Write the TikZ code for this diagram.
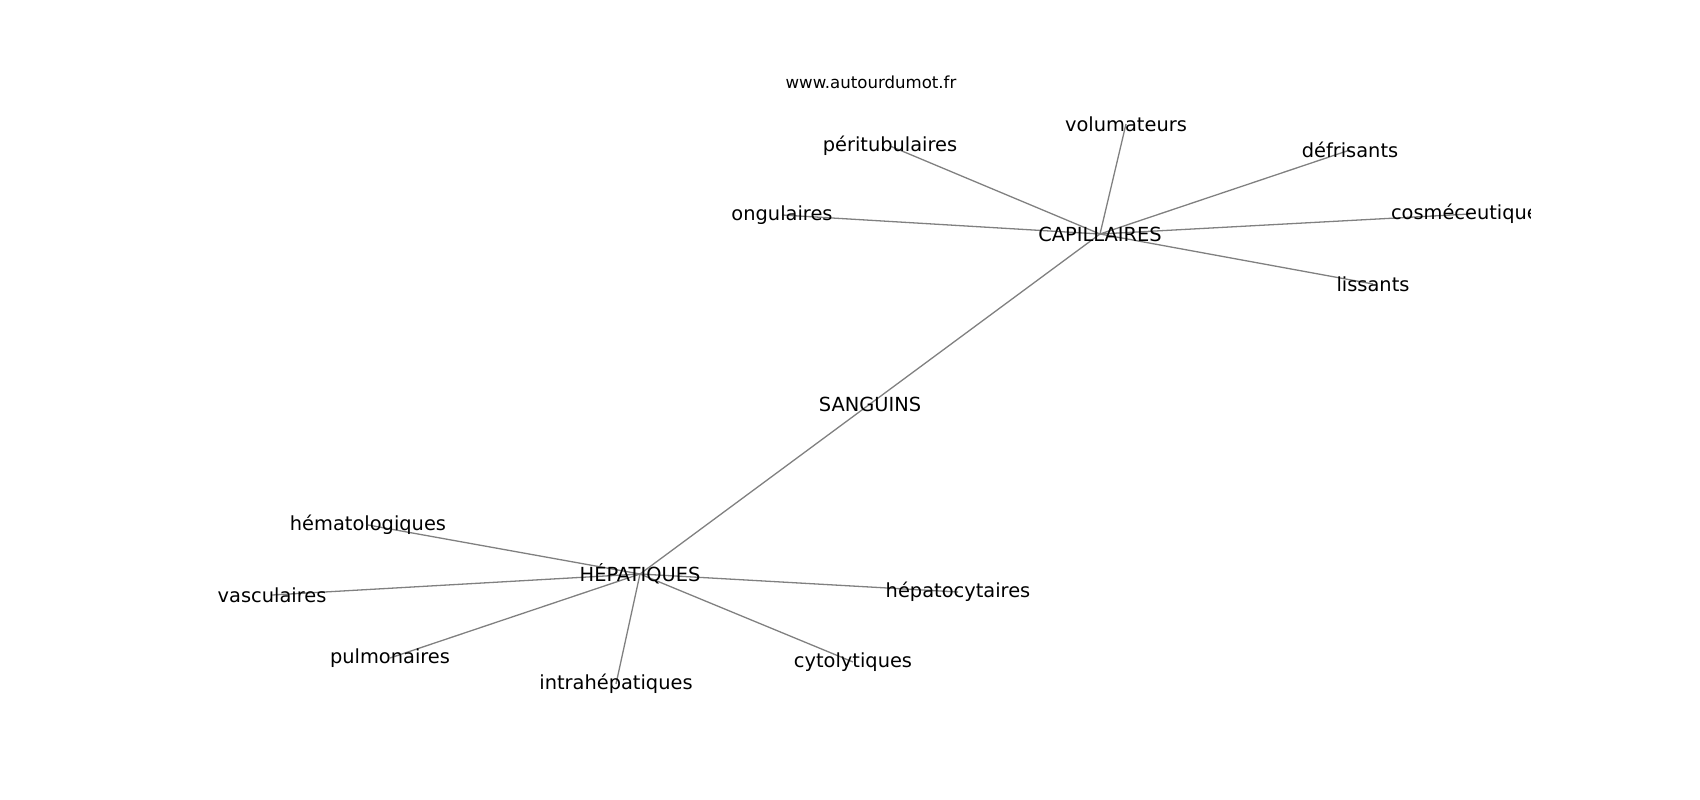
\documentclass[tikz,border=0pt]{standalone}
\usepackage{fontspec}
\setmainfont{DejaVu Sans}
\usetikzlibrary{backgrounds}
\tikzset{
	word/.style={inner sep=0pt, font=\fontsize{19.4}{23}\selectfont},
	link/.style={draw=gray, line width=1.3pt}
}
\begin{document}
\begin{tikzpicture}[x=1pt,y=-1pt]
		\useasboundingbox (0,0) rectangle (1700,800);
		\node[inner sep=0pt, font=\fontsize{16.6}{20}\selectfont] (site) at (871,82) {www.autourdumot.fr};
		\begin{scope}
			\clip (212,96) rectangle (1530,712);
			\node[word] (sang) at (870,404) {SANGUINS};
			\node[word] (cap) at (1100,234) {CAPILLAIRES};
			\node[word] (hep) at (640,574) {HÉPATIQUES};
			% autour de CAPILLAIRES
			\node[word] (volu) at (1126,124) {volumateurs};
			\node[word] (peri) at (890,146) {péritubulaires};
			\node[word] (defr) at (1350,150) {défrisants};
			\node[word] (ongu) at (782,215) {ongulaires};
			\node[word] (cosm) at (1470,214) {cosméceutiques};
			\node[word] (liss) at (1373,284) {lissants};
			% autour de HÉPATIQUES
			\node[word] (hema) at (368,525) {hématologiques};
			\node[word] (vasc) at (272,595) {vasculaires};
			\node[word] (pulm) at (390,658) {pulmonaires};
			\node[word] (intr) at (616,684) {intrahépatiques};
			\node[word] (hepa) at (958,592) {hépatocytaires};
			\node[word] (cyto) at (853,662) {cytolytiques};
			\begin{scope}[on background layer]
				\foreach \a/\b in {sang/cap,sang/hep,cap/volu,cap/peri,cap/defr,cap/ongu,cap/cosm,cap/liss,hep/hema,hep/vasc,hep/pulm,hep/intr,hep/hepa,hep/cyto}{
					\draw[link] (\a.center) -- (\b.center);
				}
			\end{scope}
		\end{scope}
\end{tikzpicture}
\end{document}
